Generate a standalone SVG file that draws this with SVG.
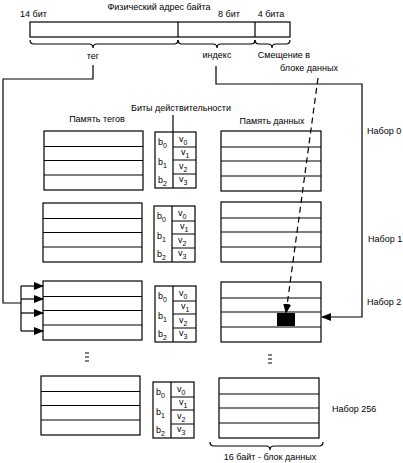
<svg xmlns="http://www.w3.org/2000/svg" width="403" height="463" viewBox="0 0 403 463">
<style>
text{font-family:"Liberation Sans",Arial,sans-serif;font-size:9px;fill:#000}
.box{fill:#fff;stroke:#000;stroke-width:1.2}
.ln{fill:none;stroke:#000;stroke-width:1.2}
.c{text-anchor:middle}
.sub{font-size:7px}
</style>
<defs>
<marker id="ah" markerWidth="10" markerHeight="8" refX="9" refY="4" orient="auto" markerUnits="userSpaceOnUse">
<path d="M0,0 L10,4 L0,8 Z" fill="#000"/>
</marker>
<g id="tagmem">
<rect class="box" x="0" y="0" width="99" height="59"/>
<path class="ln" d="M0,15.5H99M0,29.5H99M0,44H99"/>
</g>
<g id="datamem">
<rect class="box" x="0" y="0" width="100" height="60"/>
<path class="ln" d="M0,16H100M0,30H100M0,45H100"/>
</g>
<g id="valid">
<rect class="box" x="0" y="0" width="41" height="56"/>
<path class="ln" d="M18,0V56M18,15H41M18,28H41M18,42H41"/>
<text x="3" y="13">b<tspan class="sub" dy="3">0</tspan></text>
<text x="3" y="33">b<tspan class="sub" dy="3">1</tspan></text>
<text x="3" y="51">b<tspan class="sub" dy="3">2</tspan></text>
<text x="24" y="10">v<tspan class="sub" dy="3">0</tspan></text>
<text x="26" y="23">v<tspan class="sub" dy="3">1</tspan></text>
<text x="24" y="37">v<tspan class="sub" dy="3">2</tspan></text>
<text x="24" y="50">v<tspan class="sub" dy="3">3</tspan></text>
</g>
</defs>

<g id="address">
<text class="c" x="159" y="10">Физический адрес байта</text>
<text x="20" y="17">14 бит</text>
<text class="c" x="229" y="17">8 бит</text>
<text class="c" x="271" y="17">4  бита</text>
<rect class="box" x="30" y="22" width="260" height="15"/>
<path class="ln" d="M178,22V37M255,22V37"/>
<path class="ln" d="M30,40q0,4 4,4H89q4,0 4,4q0,-4 4,-4H174q4,0 4,-4"/>
<path class="ln" d="M178,40q0,4 4,4H213q4,0 4,4q0,-4 4,-4H251q4,0 4,-4"/>
<path class="ln" d="M255,40q0,4 4,4H268q4,0 4,4q0,-4 4,-4H286q4,0 4,-4"/>
<text class="c" x="93" y="59">тег</text>
<text class="c" x="217" y="58">индекс</text>
<text class="c" x="284" y="58">Смещение в</text>
<text class="c" x="309" y="71">блоке данных</text>
</g>

<g id="headers">
<text class="c" x="97" y="122">Память тегов</text>
<text class="c" x="181" y="111">Биты действительности</text>
<text class="c" x="272" y="124">Память данных</text>
<path class="ln" d="M173,115V132"/>
</g>

<g id="set0">
<use href="#tagmem" x="44" y="131"/>
<use href="#valid" x="155" y="132"/>
<use href="#datamem" x="221" y="131"/>
<text x="367" y="134">Набор 0</text>
</g>
<g id="set1">
<use href="#tagmem" x="43" y="203"/>
<use href="#valid" x="154" y="206"/>
<use href="#datamem" x="221" y="202"/>
<text x="368" y="242">Набор 1</text>
</g>
<g id="set2">
<use href="#tagmem" x="43" y="281"/>
<use href="#valid" x="155" y="286"/>
<use href="#datamem" x="221" y="282"/>
<rect x="277" y="313" width="18" height="13" fill="#000"/>
<text x="367" y="305">Набор 2</text>
</g>
<g id="dots">
<path class="ln" d="M85,353h4M85,357h4M85,361h4M268,355h4M268,359h4M268,363h4"/>
</g>
<g id="set256">
<use href="#tagmem" x="41" y="376"/>
<use href="#valid" x="153" y="382"/>
<use href="#datamem" x="219" y="378"/>
<text x="332" y="412">Набор 256</text>
<path class="ln" d="M210,442q0,4 4,4H266q4,0 4,4q0,-4 4,-4H319q4,0 4,-4"/>
<text class="c" x="270" y="460">16  байт - блок данных</text>
</g>

<g id="connectors">
<path class="ln" d="M93,65V79H3V303H21"/>
<path class="ln" d="M21,286V331"/>
<path class="ln" d="M21,286H43" marker-end="url(#ah)"/>
<path class="ln" d="M21,299H43" marker-end="url(#ah)"/>
<path class="ln" d="M21,313H43" marker-end="url(#ah)"/>
<path class="ln" d="M21,331H43" marker-end="url(#ah)"/>
<path class="ln" d="M216,66V84H362V317H322" marker-end="url(#ah)"/>
<path class="ln" d="M318,78L286,313" stroke-dasharray="6,4" marker-end="url(#ah)"/>
</g>
</svg>
